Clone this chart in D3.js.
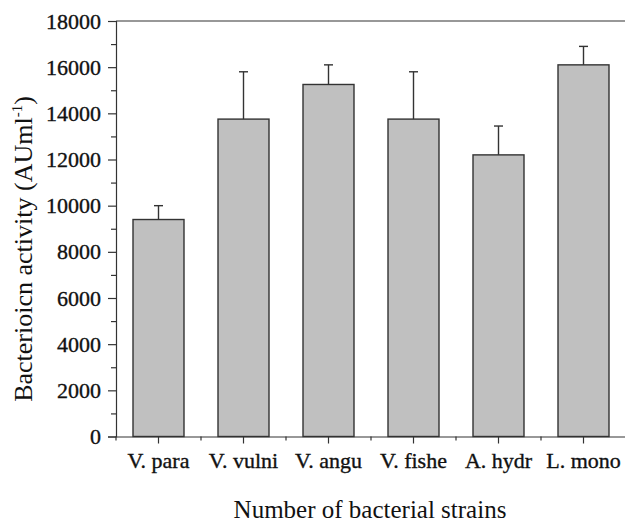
<!DOCTYPE html>
<html>
<head>
<meta charset="utf-8">
<script src="https://cdn.jsdelivr.net/npm/d3@7"></script>
<style>
    body { margin: 0; background: #fff; }
    svg { display: block; }
</style>
</head>
<body>
<svg id="chart"></svg>
<script>
var strains = ['V. para', 'V. vulni', 'V. angu', 'V. fishe', 'A. hydr', 'L. mono'];
var activity = [9400, 13750, 15250, 13750, 12200, 16100];
var errors = [600, 2050, 850, 2050, 1250, 800];
var yTicks = [0, 2000, 4000, 6000, 8000, 10000, 12000, 14000, 16000, 18000];
var yMinorTicks = [1000, 3000, 5000, 7000, 9000, 11000, 13000, 15000, 17000];

var dim = {
    width: 625,
    height: 525,
    left: 116,
    right: 626,
    top: 21,
    bottom: 436.5
};

var serif = '"Liberation Serif", serif';

var svg = d3.select('#chart')
    .attr('width', dim.width)
    .attr('height', dim.height);

var xScale = d3.scaleBand()
    .domain(strains)
    .range([dim.left, dim.right])
    .paddingInner(0.4)
    .paddingOuter(0.2);

var yScale = d3.scaleLinear()
    .domain([0, 18000])
    .range([dim.bottom, dim.top]);

var axisColor = '#333';

// bars
svg.append('g').selectAll('rect')
    .data(strains)
    .enter().append('rect')
    .attr('x', function(d) { return xScale(d); })
    .attr('y', function(d, i) { return yScale(activity[i]); })
    .attr('width', xScale.bandwidth())
    .attr('height', function(d, i) { return yScale(0) - yScale(activity[i]); })
    .attr('fill', '#c0c0c0')
    .attr('stroke', '#333')
    .attr('stroke-width', 1.4);

// error bars (upper only)
var err = svg.append('g').attr('stroke', '#333').attr('stroke-width', 1.4);
strains.forEach(function(s, i) {
    var cx = xScale(s) + xScale.bandwidth() / 2;
    err.append('line')
        .attr('x1', cx).attr('x2', cx)
        .attr('y1', yScale(activity[i]))
        .attr('y2', yScale(activity[i] + errors[i]));
    err.append('line')
        .attr('x1', cx - 4.5).attr('x2', cx + 4.5)
        .attr('y1', yScale(activity[i] + errors[i]))
        .attr('y2', yScale(activity[i] + errors[i]));
});

function styleLabels(g) {
    g.attr('font-family', serif).attr('font-size', 22);
    g.selectAll('text')
        .attr('fill', '#111')
        .attr('stroke', '#111')
        .attr('stroke-width', 0.35);
}

// y axis
var gy = svg.append('g')
    .attr('transform', 'translate(' + dim.left + ',0)')
    .call(d3.axisLeft(yScale)
        .tickValues(yTicks)
        .tickSize(8)
        .tickPadding(7)
        .tickFormat(d3.format('d')));
gy.selectAll('path, line').attr('stroke', axisColor).attr('stroke-width', 1.2);
styleLabels(gy);

var gyMinor = svg.append('g')
    .attr('transform', 'translate(' + dim.left + ',0)')
    .call(d3.axisLeft(yScale).tickValues(yMinorTicks).tickSize(5).tickFormat(''));
gyMinor.select('.domain').remove();
gyMinor.selectAll('line').attr('stroke', axisColor).attr('stroke-width', 1.2);

// x axis
var gx = svg.append('g')
    .attr('transform', 'translate(0,' + dim.bottom + ')')
    .call(d3.axisBottom(xScale).tickSize(7).tickPadding(9).tickSizeOuter(0));
gx.selectAll('path, line').attr('stroke', axisColor).attr('stroke-width', 1.2);
styleLabels(gx);

// minor x ticks at category boundaries
var boundaries = strains.map(function(s) { return xScale(s) - xScale.step() * xScale.paddingOuter(); });
svg.append('g').selectAll('line')
    .data(boundaries)
    .enter().append('line')
    .attr('x1', function(d) { return d; })
    .attr('x2', function(d) { return d; })
    .attr('y1', dim.bottom)
    .attr('y2', dim.bottom + 4)
    .attr('stroke', axisColor)
    .attr('stroke-width', 1.2);

// top frame line
svg.append('line')
    .attr('x1', dim.left).attr('x2', dim.right)
    .attr('y1', dim.top).attr('y2', dim.top)
    .attr('stroke', axisColor)
    .attr('stroke-width', 1.2);

// axis titles
svg.append('text')
    .attr('x', (dim.left + dim.right) / 2 - 1)
    .attr('y', 518)
    .attr('text-anchor', 'middle')
    .attr('font-family', serif)
    .attr('font-size', 25)
    .attr('fill', '#111')
    .text('Number of bacterial strains');

var yTitle = svg.append('text')
    .attr('transform', 'translate(32,249) rotate(-90)')
    .attr('text-anchor', 'middle')
    .attr('font-family', serif)
    .attr('font-size', 26)
    .attr('fill', '#111');
yTitle.append('tspan').text('Bacterioicn activity (AUml');
yTitle.append('tspan').attr('dy', -10).attr('font-size', 15).text('-1');
yTitle.append('tspan').attr('dy', 10).text(')');
</script>
</body>
</html>
